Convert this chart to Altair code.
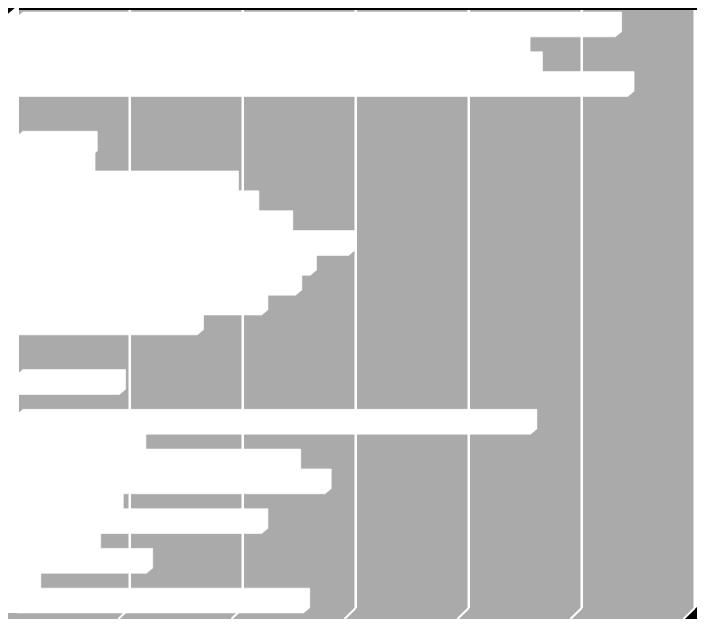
import altair as alt
import pandas as pd

# 30 horizontal bars (top to bottom) (no labels in the original)
categories = list(range(1, 31))
values = [53.0, 44.9, 46.0, 54.1, 0.0, 0.0, 6.6, 6.4, 19.1, 20.9,
          23.9, 29.4, 26.0, 24.7, 21.7, 16.0, 0.0, 0.0, 9.1, 0.0,
          45.5, 10.9, 24.6, 27.3, 8.9, 21.7, 6.9, 11.5, 1.6, 25.4]
grid_values = [10, 20, 30, 40, 50, 60]

GRAY = "#aaaaaa"
W, H = 678, 603

df = pd.DataFrame({"cat": categories, "value": values})
gdf = pd.DataFrame({"g": grid_values})
one = pd.DataFrame({"a": [0]})

xscale = alt.Scale(domain=[0.2, 60.2], nice=False, zero=False)
yscale = alt.Scale(domain=[-0.3523, 30], nice=False, zero=False, reverse=True)

base = alt.Chart(df).transform_filter("datum.value > 0").transform_calculate(
    idx="datum.cat - 1", idx2="datum.cat", zero="0"
)

# floor strip
floor = alt.Chart(one).mark_rect(color=GRAY).encode(
    x=alt.value(-11), x2=alt.value(W), y=alt.value(H), y2=alt.value(H + 6)
)

# gridlines on the back wall
grid = alt.Chart(gdf).mark_rule(color="white", strokeWidth=2.5).encode(
    x=alt.X("g:Q", scale=xscale, axis=None), y=alt.value(0), y2=alt.value(598)
)
edge = alt.Chart(one).mark_rule(color="white", strokeWidth=2).encode(
    x=alt.value(677), y=alt.value(0), y2=alt.value(598)
)

# 3D bars: front face plus depth layers shifted up-right
bar_layers = []
steps = 6
for k in range(steps + 1):
    xo = k * 6 / steps
    yo = -k * 5 / steps
    bar_layers.append(
        base.mark_bar(color="white", stroke="white", strokeWidth=0.6,
                      xOffset=xo, x2Offset=xo, yOffset=yo, y2Offset=yo).encode(
            x=alt.X("zero:Q", scale=xscale, axis=None),
            x2="value:Q",
            y=alt.Y("idx:Q", scale=yscale, axis=None),
            y2="idx2:Q",
        )
    )

# left side wall
wall = alt.Chart(one).mark_rect(color="white").encode(
    x=alt.value(-11), x2=alt.value(0), y=alt.value(-2), y2=alt.value(H)
)
# chamfered corners
cut_tl = alt.Chart(one).mark_rule(color="black", strokeWidth=5).encode(
    x=alt.value(-14), x2=alt.value(-6), y=alt.value(2.95), y2=alt.value(-3.6)
)
cut_br = alt.Chart(one).mark_rule(color="black", strokeWidth=10).encode(
    x=alt.value(684.3), x2=alt.value(664.2), y=alt.value(598.2), y2=alt.value(615.4)
)

# gridline feet on the floor
feet = alt.Chart(gdf).transform_calculate(gf="datum.g - 1").mark_rule(
    color="white", strokeWidth=2
).encode(
    x=alt.X("g:Q", scale=xscale, axis=None), x2="gf:Q",
    y=alt.value(598), y2=alt.value(609)
)

chart = alt.layer(
    floor, grid, edge, *bar_layers, wall, cut_tl, cut_br, feet
).properties(
    width=W, height=H,
    padding={"left": 11, "top": 2, "right": 0, "bottom": 6},
    autosize=alt.AutoSizeParams(type="none"),
    background="black",
).configure_view(stroke=None, fill=GRAY)

chart.save("out.html", embed_options={"renderer": "svg", "actions": False})
